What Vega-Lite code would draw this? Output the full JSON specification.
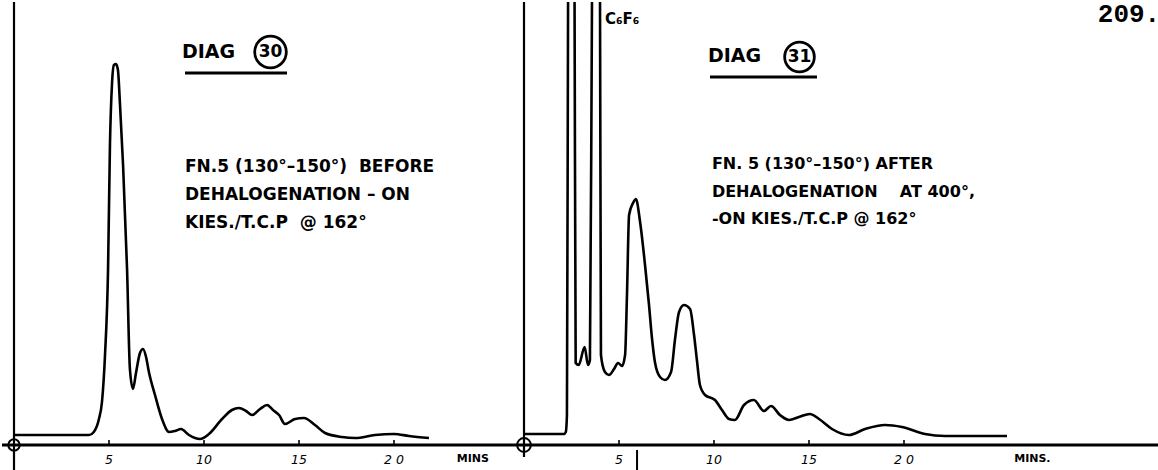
{
  "$schema": "https://vega.github.io/schema/vega-lite/v6.json",
  "padding": 0,
  "bounds": "flush",
  "background": "white",
  "spacing": 0,
  "config": {"view": {"stroke": null}, "concat": {"spacing": 0}},
  "datasets": {
    "left": [
      {"t": 0, "r": 10}, {"t": 3.95, "r": 10}, {"t": 4.2, "r": 13}, {"t": 4.47, "r": 26},
      {"t": 4.63, "r": 43}, {"t": 4.79, "r": 90}, {"t": 4.95, "r": 176}, {"t": 5.05, "r": 300},
      {"t": 5.16, "r": 362}, {"t": 5.26, "r": 380}, {"t": 5.37, "r": 381}, {"t": 5.47, "r": 375},
      {"t": 5.58, "r": 340}, {"t": 5.74, "r": 280}, {"t": 5.95, "r": 176}, {"t": 6.1, "r": 76},
      {"t": 6.26, "r": 56}, {"t": 6.42, "r": 72}, {"t": 6.63, "r": 92}, {"t": 6.79, "r": 96},
      {"t": 6.95, "r": 88}, {"t": 7.1, "r": 73}, {"t": 7.42, "r": 50}, {"t": 7.79, "r": 26},
      {"t": 8.16, "r": 13}, {"t": 8.47, "r": 14}, {"t": 8.79, "r": 16}, {"t": 9.21, "r": 10},
      {"t": 9.53, "r": 7}, {"t": 9.79, "r": 6}, {"t": 10.26, "r": 11}, {"t": 10.95, "r": 26},
      {"t": 11.47, "r": 35}, {"t": 11.84, "r": 37}, {"t": 12.21, "r": 34}, {"t": 12.53, "r": 30},
      {"t": 12.95, "r": 36}, {"t": 13.32, "r": 40}, {"t": 13.63, "r": 35}, {"t": 13.95, "r": 30},
      {"t": 14.26, "r": 21}, {"t": 14.79, "r": 26}, {"t": 15.26, "r": 27}, {"t": 15.84, "r": 20},
      {"t": 16.37, "r": 12}, {"t": 17.26, "r": 8}, {"t": 17.95, "r": 7}, {"t": 19.0, "r": 10},
      {"t": 20.0, "r": 11}, {"t": 20.79, "r": 9}, {"t": 21.84, "r": 7}
    ],
    "right": [
      {"t": 0, "r": 11}, {"t": 2.1, "r": 11}, {"t": 2.2, "r": 13}, {"t": 2.26, "r": 30},
      {"t": 2.32, "r": 450}, {"t": 2.5, "r": 900}, {"t": 2.66, "r": 450}, {"t": 2.72, "r": 82},
      {"t": 2.88, "r": 80}, {"t": 3.19, "r": 98}, {"t": 3.37, "r": 80}, {"t": 3.47, "r": 85},
      {"t": 3.58, "r": 450}, {"t": 3.79, "r": 900}, {"t": 4.0, "r": 450}, {"t": 4.05, "r": 90},
      {"t": 4.26, "r": 73}, {"t": 4.47, "r": 70}, {"t": 4.74, "r": 76}, {"t": 4.95, "r": 82},
      {"t": 5.16, "r": 79}, {"t": 5.32, "r": 90}, {"t": 5.42, "r": 150}, {"t": 5.53, "r": 230},
      {"t": 5.74, "r": 242}, {"t": 5.89, "r": 246}, {"t": 6.11, "r": 223}, {"t": 6.37, "r": 180},
      {"t": 6.58, "r": 140}, {"t": 6.74, "r": 106}, {"t": 6.89, "r": 83}, {"t": 7.16, "r": 68},
      {"t": 7.42, "r": 65}, {"t": 7.74, "r": 73}, {"t": 7.95, "r": 106}, {"t": 8.16, "r": 133},
      {"t": 8.42, "r": 140}, {"t": 8.74, "r": 136}, {"t": 8.95, "r": 110}, {"t": 9.1, "r": 85},
      {"t": 9.26, "r": 60}, {"t": 9.53, "r": 50}, {"t": 10.05, "r": 45}, {"t": 10.42, "r": 35},
      {"t": 10.79, "r": 26}, {"t": 11.1, "r": 25}, {"t": 11.58, "r": 40}, {"t": 12.1, "r": 45},
      {"t": 12.63, "r": 34}, {"t": 13.0, "r": 39}, {"t": 13.47, "r": 30}, {"t": 13.95, "r": 25},
      {"t": 14.47, "r": 28}, {"t": 15.05, "r": 31}, {"t": 15.53, "r": 26}, {"t": 16.21, "r": 16},
      {"t": 17.1, "r": 10}, {"t": 17.95, "r": 16}, {"t": 19.0, "r": 20}, {"t": 19.9, "r": 18},
      {"t": 21.1, "r": 11}, {"t": 22.16, "r": 9}, {"t": 25.42, "r": 9}
    ],
    "ticks": [
      {"t": 5, "label": "5"}, {"t": 10, "label": "10"}, {"t": 15, "label": "15"}, {"t": 20, "label": "2 0"}
    ]
  },
  "hconcat": [
    {
      "width": 505,
      "height": 470,
      "layer": [
        {
          "data": {"name": "left"},
          "mark": {"type": "line", "interpolate": "monotone", "color": "black", "strokeWidth": 2.6, "clip": true},
          "encoding": {
            "x": {"field": "t", "type": "quantitative", "scale": {"domain": [-0.6316, 25.947], "nice": false, "zero": false}, "axis": null},
            "y": {"field": "r", "type": "quantitative", "scale": {"domain": [-27, 443], "nice": false, "zero": false}, "axis": null}
          }
        },
        {
          "data": {"values": [{"t": 0}]},
          "mark": {"type": "rule", "color": "black", "strokeWidth": 2.2},
          "encoding": {"x": {"field": "t", "type": "quantitative"}}
        },
        {
          "data": {"values": [{"r": 0}]},
          "mark": {"type": "rule", "color": "black", "strokeWidth": 2.8},
          "encoding": {"y": {"field": "r", "type": "quantitative"}}
        },
        {
          "data": {"name": "ticks"},
          "mark": {"type": "rule", "color": "black", "strokeWidth": 1.6},
          "encoding": {
            "x": {"field": "t", "type": "quantitative"},
            "y": {"datum": 0}, "y2": {"datum": 5}
          }
        },
        {
          "data": {"name": "ticks"},
          "mark": {"type": "text", "font": "DejaVu Sans", "fontSize": 12.5, "fontStyle": "italic", "color": "black", "baseline": "middle", "align": "center"},
          "encoding": {
            "x": {"field": "t", "type": "quantitative"},
            "y": {"datum": -15},
            "text": {"field": "label"}
          }
        },
        {
          "data": {"values": [{"t": 23.3, "r": -14, "label": "MINS"}]},
          "mark": {"type": "text", "font": "DejaVu Sans", "fontSize": 11, "fontWeight": "bold", "color": "black", "align": "left", "baseline": "middle"},
          "encoding": {
            "x": {"field": "t", "type": "quantitative"},
            "y": {"field": "r", "type": "quantitative"},
            "text": {"field": "label"}
          }
        },
        {
          "data": {"values": [{"t": 0, "r": 0}]},
          "mark": {"type": "point", "shape": "circle", "filled": false, "size": 130, "color": "black", "opacity": 1, "strokeWidth": 2},
          "encoding": {
            "x": {"field": "t", "type": "quantitative"},
            "y": {"field": "r", "type": "quantitative"}
          }
        },
        {
          "data": {"values": [{"t": 8.84, "r": 393, "label": "DIAG"}]},
          "mark": {"type": "text", "font": "DejaVu Sans", "fontSize": 19, "fontWeight": "bold", "color": "black", "align": "left", "baseline": "middle"},
          "encoding": {
            "x": {"field": "t", "type": "quantitative"},
            "y": {"field": "r", "type": "quantitative"},
            "text": {"field": "label"}
          }
        },
        {
          "data": {"values": [{"t": 13.5, "r": 393, "label": "30"}]},
          "layer": [
            {
              "mark": {"type": "point", "shape": "circle", "filled": false, "size": 1000, "color": "black", "opacity": 1, "strokeWidth": 2.8},
              "encoding": {
                "x": {"field": "t", "type": "quantitative"},
                "y": {"field": "r", "type": "quantitative"}
              }
            },
            {
              "mark": {"type": "text", "font": "DejaVu Sans", "fontSize": 17, "fontWeight": "bold", "color": "black", "align": "center", "baseline": "middle"},
              "encoding": {
                "x": {"field": "t", "type": "quantitative"},
                "y": {"field": "r", "type": "quantitative"},
                "text": {"field": "label"}
              }
            }
          ]
        },
        {
          "data": {"values": [{"t": 9.0, "t2": 14.37, "r": 372}]},
          "mark": {"type": "rule", "color": "black", "strokeWidth": 3},
          "encoding": {
            "x": {"field": "t", "type": "quantitative"},
            "x2": {"field": "t2"},
            "y": {"field": "r", "type": "quantitative"}
          }
        },
        {
          "data": {"values": [
            {"t": 9.0, "r": 278, "label": "FN.5 (130°–150°)\u00a0\u00a0BEFORE"},
            {"t": 9.0, "r": 250, "label": "DEHALOGENATION – ON"},
            {"t": 9.0, "r": 222, "label": "KIES./T.C.P\u00a0\u00a0@ 162°"}
          ]},
          "mark": {"type": "text", "font": "DejaVu Sans", "fontSize": 17, "fontWeight": "bold", "color": "black", "align": "left", "baseline": "middle"},
          "encoding": {
            "x": {"field": "t", "type": "quantitative"},
            "y": {"field": "r", "type": "quantitative"},
            "text": {"field": "label"}
          }
        }
      ]
    },
    {
      "width": 653,
      "height": 470,
      "layer": [
        {
          "data": {"name": "right"},
          "mark": {"type": "line", "interpolate": "monotone", "color": "black", "strokeWidth": 2.6, "clip": true},
          "encoding": {
            "x": {"field": "t", "type": "quantitative", "scale": {"domain": [-0.8947, 33.474], "nice": false, "zero": false}, "axis": null},
            "y": {"field": "r", "type": "quantitative", "scale": {"domain": [-27, 443], "nice": false, "zero": false}, "axis": null}
          }
        },
        {
          "data": {"values": [{"t": 0}]},
          "mark": {"type": "rule", "color": "black", "strokeWidth": 2.2},
          "encoding": {"x": {"field": "t", "type": "quantitative"}, "y": {"datum": 443}, "y2": {"datum": -12}}
        },
        {
          "data": {"values": [{"r": 0}]},
          "mark": {"type": "rule", "color": "black", "strokeWidth": 2.8},
          "encoding": {"y": {"field": "r", "type": "quantitative"}}
        },
        {
          "data": {"name": "ticks"},
          "mark": {"type": "rule", "color": "black", "strokeWidth": 1.6},
          "encoding": {
            "x": {"field": "t", "type": "quantitative"},
            "y": {"datum": 0}, "y2": {"datum": 5}
          }
        },
        {
          "data": {"name": "ticks"},
          "mark": {"type": "text", "font": "DejaVu Sans", "fontSize": 12.5, "fontStyle": "italic", "color": "black", "baseline": "middle", "align": "center"},
          "encoding": {
            "x": {"field": "t", "type": "quantitative"},
            "y": {"datum": -15},
            "text": {"field": "label"}
          }
        },
        {
          "data": {"values": [{"t": 5.95, "r": -5, "r2": -27}]},
          "mark": {"type": "rule", "color": "black", "strokeWidth": 2},
          "encoding": {
            "x": {"field": "t", "type": "quantitative"},
            "y": {"field": "r", "type": "quantitative"},
            "y2": {"field": "r2"}
          }
        },
        {
          "data": {"values": [{"t": 25.8, "r": -14, "label": "MINS."}]},
          "mark": {"type": "text", "font": "DejaVu Sans", "fontSize": 11, "fontWeight": "bold", "color": "black", "align": "left", "baseline": "middle"},
          "encoding": {
            "x": {"field": "t", "type": "quantitative"},
            "y": {"field": "r", "type": "quantitative"},
            "text": {"field": "label"}
          }
        },
        {
          "data": {"values": [{"t": 0, "r": 0}]},
          "mark": {"type": "point", "shape": "circle", "filled": false, "size": 190, "color": "black", "opacity": 1, "strokeWidth": 2},
          "encoding": {
            "x": {"field": "t", "type": "quantitative"},
            "y": {"field": "r", "type": "quantitative"}
          }
        },
        {
          "data": {"values": [{"t": 9.68, "r": 389, "label": "DIAG"}]},
          "mark": {"type": "text", "font": "DejaVu Sans", "fontSize": 19, "fontWeight": "bold", "color": "black", "align": "left", "baseline": "middle"},
          "encoding": {
            "x": {"field": "t", "type": "quantitative"},
            "y": {"field": "r", "type": "quantitative"},
            "text": {"field": "label"}
          }
        },
        {
          "data": {"values": [{"t": 14.5, "r": 388, "label": "31"}]},
          "layer": [
            {
              "mark": {"type": "point", "shape": "circle", "filled": false, "size": 880, "color": "black", "opacity": 1, "strokeWidth": 2.8},
              "encoding": {
                "x": {"field": "t", "type": "quantitative"},
                "y": {"field": "r", "type": "quantitative"}
              }
            },
            {
              "mark": {"type": "text", "font": "DejaVu Sans", "fontSize": 17, "fontWeight": "bold", "color": "black", "align": "center", "baseline": "middle"},
              "encoding": {
                "x": {"field": "t", "type": "quantitative"},
                "y": {"field": "r", "type": "quantitative"},
                "text": {"field": "label"}
              }
            }
          ]
        },
        {
          "data": {"values": [{"t": 9.79, "t2": 15.42, "r": 368}]},
          "mark": {"type": "rule", "color": "black", "strokeWidth": 3},
          "encoding": {
            "x": {"field": "t", "type": "quantitative"},
            "x2": {"field": "t2"},
            "y": {"field": "r", "type": "quantitative"}
          }
        },
        {
          "data": {"values": [
            {"t": 9.89, "r": 281, "label": "FN. 5 (130°–150°) AFTER"},
            {"t": 9.89, "r": 253, "label": "DEHALOGENATION\u00a0\u00a0\u00a0\u00a0AT 400°,"},
            {"t": 9.89, "r": 226, "label": "-ON KIES./T.C.P @ 162°"}
          ]},
          "mark": {"type": "text", "font": "DejaVu Sans", "fontSize": 16, "fontWeight": "bold", "color": "black", "align": "left", "baseline": "middle"},
          "encoding": {
            "x": {"field": "t", "type": "quantitative"},
            "y": {"field": "r", "type": "quantitative"},
            "text": {"field": "label"}
          }
        },
        {
          "data": {"values": [{"t": 4.26, "r": 426, "label": "C₆F₆"}]},
          "mark": {"type": "text", "font": "DejaVu Sans", "fontSize": 15, "fontWeight": "bold", "color": "black", "align": "left", "baseline": "middle"},
          "encoding": {
            "x": {"field": "t", "type": "quantitative"},
            "y": {"field": "r", "type": "quantitative"},
            "text": {"field": "label"}
          }
        },
        {
          "data": {"values": [{"t": 30.2, "r": 431, "label": "209."}]},
          "mark": {"type": "text", "font": "Liberation Mono", "fontSize": 26, "fontWeight": "bold", "color": "black", "align": "left", "baseline": "middle"},
          "encoding": {
            "x": {"field": "t", "type": "quantitative"},
            "y": {"field": "r", "type": "quantitative"},
            "text": {"field": "label"}
          }
        }
      ]
    }
  ]
}
